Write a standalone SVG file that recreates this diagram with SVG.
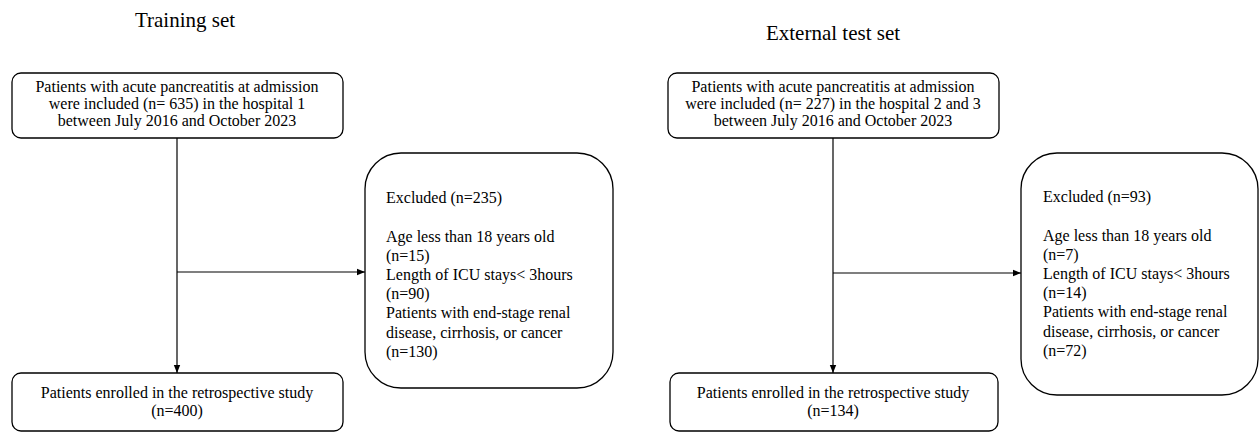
<svg xmlns="http://www.w3.org/2000/svg" width="1260" height="432" viewBox="0 0 1260 432">
<defs>
<marker id="ah" viewBox="0 0 10 10" refX="10" refY="5" markerWidth="8" markerHeight="8" orient="auto" markerUnits="userSpaceOnUse"><path d="M0,1 L10,5 L0,9 z" fill="#000"/></marker>
<style>
.box{fill:#fff;stroke:#000;stroke-width:1.3}
.t{font-family:"Liberation Serif","Times New Roman",serif;font-size:16px;fill:#000}
.c{text-anchor:middle}
.title{font-family:"Liberation Serif","Times New Roman",serif;font-size:21px;fill:#000;text-anchor:middle}
.ln{stroke:#000;stroke-width:1.2;fill:none}
</style>
</defs>
<rect width="1260" height="432" fill="#fff"/>
<text class="title" x="185" y="27">Training set</text>
<text class="title" x="833" y="40">External test set</text>
<g id="connectors">
<line class="ln" x1="177" y1="138" x2="177" y2="373" marker-end="url(#ah)"/>
<line class="ln" x1="177" y1="272" x2="365" y2="272" marker-end="url(#ah)"/>
<line class="ln" x1="833" y1="138" x2="833" y2="373" marker-end="url(#ah)"/>
<line class="ln" x1="833" y1="273" x2="1021" y2="273" marker-end="url(#ah)"/>
</g>
<g id="train-top">
<rect class="box" x="12" y="73" width="331" height="65" rx="9"/>
<text class="t c" x="177" y="92">Patients with acute pancreatitis at admission</text>
<text class="t c" x="177" y="109">were included (n= 635) in the hospital 1</text>
<text class="t c" x="177" y="126">between July 2016 and October 2023</text>
</g>
<g id="train-excluded">
<rect class="box" x="365" y="153" width="248" height="235" rx="36"/>
<text class="t" x="386" y="203">Excluded (n=235)</text>
<text class="t" x="386" y="242">Age less than 18 years old</text>
<text class="t" x="386" y="261">(n=15)</text>
<text class="t" x="386" y="280">Length of ICU stays&lt; 3hours</text>
<text class="t" x="386" y="299">(n=90)</text>
<text class="t" x="386" y="318">Patients with end-stage renal</text>
<text class="t" x="386" y="338">disease, cirrhosis, or cancer</text>
<text class="t" x="386" y="357">(n=130)</text>
</g>
<g id="train-bottom">
<rect class="box" x="12" y="373" width="331" height="58" rx="9"/>
<text class="t c" x="177" y="398">Patients enrolled in the retrospective study</text>
<text class="t c" x="177" y="416">(n=400)</text>
</g>
<g id="test-top">
<rect class="box" x="668" y="73" width="331" height="65" rx="9"/>
<text class="t c" x="833" y="92">Patients with acute pancreatitis at admission</text>
<text class="t c" x="833" y="109">were included (n= 227) in the hospital 2 and 3</text>
<text class="t c" x="833" y="126">between July 2016 and October 2023</text>
</g>
<g id="test-excluded">
<rect class="box" x="1021" y="153" width="237" height="242" rx="36"/>
<text class="t" x="1043" y="202">Excluded (n=93)</text>
<text class="t" x="1043" y="241">Age less than 18 years old</text>
<text class="t" x="1043" y="260">(n=7)</text>
<text class="t" x="1043" y="279">Length of ICU stays&lt; 3hours</text>
<text class="t" x="1043" y="298">(n=14)</text>
<text class="t" x="1043" y="317">Patients with end-stage renal</text>
<text class="t" x="1043" y="337">disease, cirrhosis, or cancer</text>
<text class="t" x="1043" y="356">(n=72)</text>
</g>
<g id="test-bottom">
<rect class="box" x="670" y="373" width="328" height="58" rx="9"/>
<text class="t c" x="833" y="398">Patients enrolled in the retrospective study</text>
<text class="t c" x="833" y="416">(n=134)</text>
</g>
</svg>
